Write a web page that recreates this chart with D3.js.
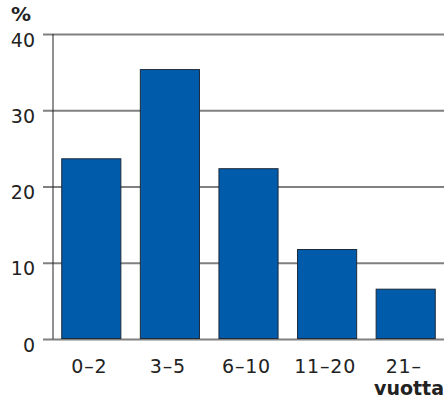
<!DOCTYPE html>
<html>
<head>
  <meta charset="utf-8">
  <style>
    body { margin: 0; background: #fff; }
    text { font-family: "DejaVu Sans", Verdana, sans-serif; fill: #222; }
  </style>
</head>
<body>
  <div id="chart"></div>
  <script src="https://cdn.jsdelivr.net/npm/d3@7"></script>
  <script>
    // data
    const categories = ['0\u20132', '3\u20135', '6\u201310', '11\u201320', '21\u2013'];
    const values = [23.7, 35.4, 22.4, 11.8, 6.6];
    const yTicks = [0, 10, 20, 30, 40];

    const svgWidth = 444, svgHeight = 400;
    const axisX = 53;
    const y0 = 339, yTop = 34;

    const svg = d3.select('#chart')
      .append('svg')
        .attr('width', svgWidth)
        .attr('height', svgHeight);

    const x = d3.scaleBand()
      .domain(categories)
      .range([52, 445])
      .paddingInner(0.235)
      .paddingOuter(0.1175);

    const y = d3.scaleLinear()
      .domain([0, 40])
      .range([y0, yTop]);

    // gridlines + y labels (labels sit a bit below their line)
    const yAxis = d3.axisLeft(y).tickValues(yTicks).tickSize(0).tickPadding(0);
    const gy = svg.append('g').call(yAxis);
    gy.select('.domain').remove();
    gy.selectAll('.tick line').remove();
    gy.selectAll('.tick').append('line')
      .attr('x1', 43).attr('x2', svgWidth)
      .attr('stroke', '#808080').attr('stroke-width', 2);
    gy.selectAll('.tick text')
      .attr('x', 35)
      .attr('y', 12)
      .attr('dy', 0)
      .style('font-size', '19px')
      .style('font-family', '"DejaVu Sans", sans-serif')
      .attr('fill', '#222');

    // y axis line
    svg.append('line')
      .attr('x1', axisX).attr('x2', axisX)
      .attr('y1', y(40)).attr('y2', y(0))
      .attr('stroke', '#222').attr('stroke-width', 1);

    // bars
    svg.selectAll('rect.bar')
      .data(values)
      .enter()
      .append('rect')
        .attr('class', 'bar')
        .attr('x', (d, i) => x(categories[i]) + 0.5)
        .attr('y', d => y(d) + 0.5)
        .attr('width', x.bandwidth() - 1)
        .attr('height', d => y(0) - y(d) - 1)
        .attr('fill', '#005baa')
        .attr('stroke', '#1c2a3a')
        .attr('stroke-width', 1);

    // x labels
    const xAxis = d3.axisBottom(x).tickSize(0).tickPadding(0);
    const gx = svg.append('g').attr('transform', 'translate(0,' + y0 + ')').call(xAxis);
    gx.select('.domain').remove();
    gx.selectAll('.tick text')
      .attr('x', -2)
      .attr('y', 34)
      .attr('dy', 0)
      .style('font-size', '19px')
      .style('letter-spacing', '0.8px')
      .style('font-family', '"DejaVu Sans", sans-serif')
      .attr('fill', '#222');

    // unit labels
    svg.append('text')
      .attr('x', 11).attr('y', 21)
      .style('font-size', '20px')
      .style('font-weight', 'bold')
      .text('%');

    svg.append('text')
      .attr('x', 444).attr('y', 395)
      .attr('text-anchor', 'end')
      .style('font-size', '19px')
      .style('font-weight', 'bold')
      .text('vuotta');
  </script>
</body>
</html>
